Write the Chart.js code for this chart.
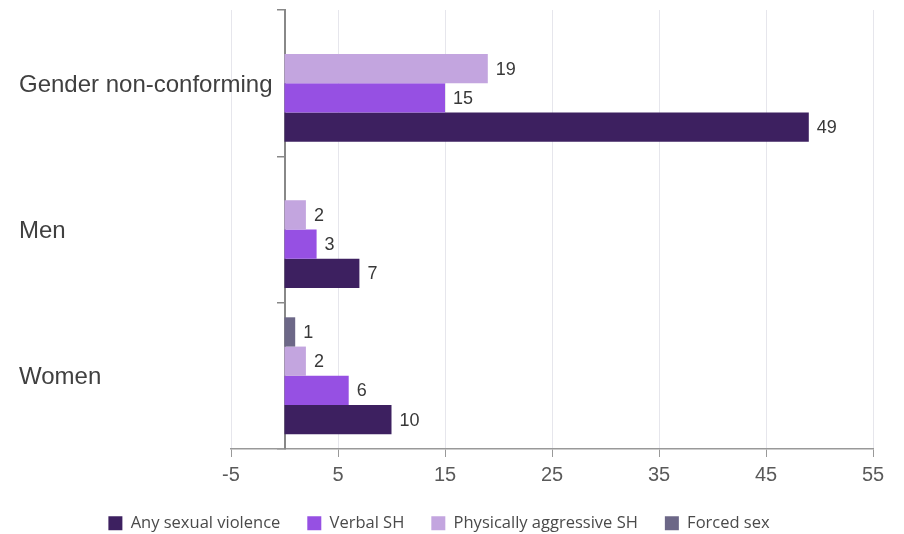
<!DOCTYPE html>
<html>
<head>
<meta charset="utf-8">
<script src="https://cdn.jsdelivr.net/npm/chart.js@4"></script>
<style>
  html, body { margin: 0; padding: 0; background: #fff; }
  #wrap { width: 904px; height: 534px; }
</style>
</head>
<body>
<div id="wrap"><canvas id="chart" width="904" height="534"></canvas></div>
<script>
const categories = ['Gender non-conforming', 'Men', 'Women'];
const anySexualViolence = [49, 7, 10];
const verbalSH = [15, 3, 6];
const physicalSH = [19, 2, 2];
const forcedSex = [null, null, 1];
const xTicks = [-5, 5, 15, 25, 35, 45, 55];

// value labels at the end of each bar
const barLabels = {
  id: 'barLabels',
  afterDatasetsDraw(chart) {
    const ctx = chart.ctx;
    ctx.save();
    ctx.font = '18px "Liberation Sans", Arial, sans-serif';
    ctx.fillStyle = '#383838';
    ctx.textAlign = 'left';
    ctx.textBaseline = 'middle';
    chart.data.datasets.forEach((ds, i) => {
      const meta = chart.getDatasetMeta(i);
      if (meta.hidden) return;
      meta.data.forEach((bar, j) => {
        const v = ds.data[j];
        if (v === null || v === undefined) return;
        ctx.fillText(String(v), bar.x + 8, bar.y + 1);
      });
    });
    ctx.restore();
  }
};

// small nudge so the legend row sits where the original one does
const legendNudge = {
  id: 'legendNudge',
  afterLayout(chart) {
    if (!chart.legend) return;
    chart.legend.left -= 7;
    chart.legend.right -= 7;
  }
};

const ctx = document.getElementById('chart').getContext('2d');
new Chart(ctx, {
  type: 'bar',
  data: {
    labels: categories,
    datasets: [
      { label: 'Forced sex', data: forcedSex, backgroundColor: '#6c6787' },
      { label: 'Physically aggressive SH', data: physicalSH, backgroundColor: '#c3a5df' },
      { label: 'Verbal SH', data: verbalSH, backgroundColor: '#9650e3' },
      { label: 'Any sexual violence', data: anySexualViolence, backgroundColor: '#3d2060' }
    ]
  },
  options: {
    indexAxis: 'y',
    responsive: false,
    animation: false,
    layout: { padding: { left: 19, right: 31, top: 10, bottom: 0 } },
    datasets: { bar: { categoryPercentage: 0.8, barPercentage: 1.0 } },
    scales: {
      x: {
        min: -5,
        max: 55,
        afterBuildTicks: scale => { scale.ticks = xTicks.map(v => ({ value: v })); },
        afterFit: scale => { scale.height = 39; },
        grid: { color: '#e6e6ec', tickColor: '#999', tickLength: 8 },
        border: { color: '#999', width: 1.5 },
        ticks: { color: '#5a5a5a', font: { size: 20, family: '"Liberation Sans", Arial, sans-serif' }, padding: 6 }
      },
      y: {
        position: 'left',
        afterFit: scale => { scale.width = 212; scale.paddingTop = 0; scale.paddingBottom = 0; },
        grid: { display: false },
        border: { display: false },
        ticks: {
          mirror: true,
          crossAlign: 'near',
          padding: -212,
          labelOffset: 2,
          color: '#404040',
          font: { size: 24, family: '"Liberation Sans", Arial, sans-serif' }
        }
      },
      y2: {
        type: 'category',
        axis: 'y',
        position: { x: 0 },
        offset: true,
        grid: { offset: true, drawOnChartArea: false, color: '#888', tickLength: 7, lineWidth: 1.5 },
        border: { color: '#888', width: 2 },
        ticks: { display: false }
      }
    },
    plugins: {
      legend: {
        position: 'bottom',
        maxHeight: 46,
        labels: {
          boxWidth: 14,
          boxHeight: 14,
          padding: 27,
          color: '#4a4a4a',
          font: { size: 16.5, family: '"Open Sans", sans-serif' },
          sort: (a, b) => b.datasetIndex - a.datasetIndex
        }
      },
      tooltip: { enabled: false }
    }
  },
  plugins: [barLabels, legendNudge]
});
</script>
</body>
</html>
